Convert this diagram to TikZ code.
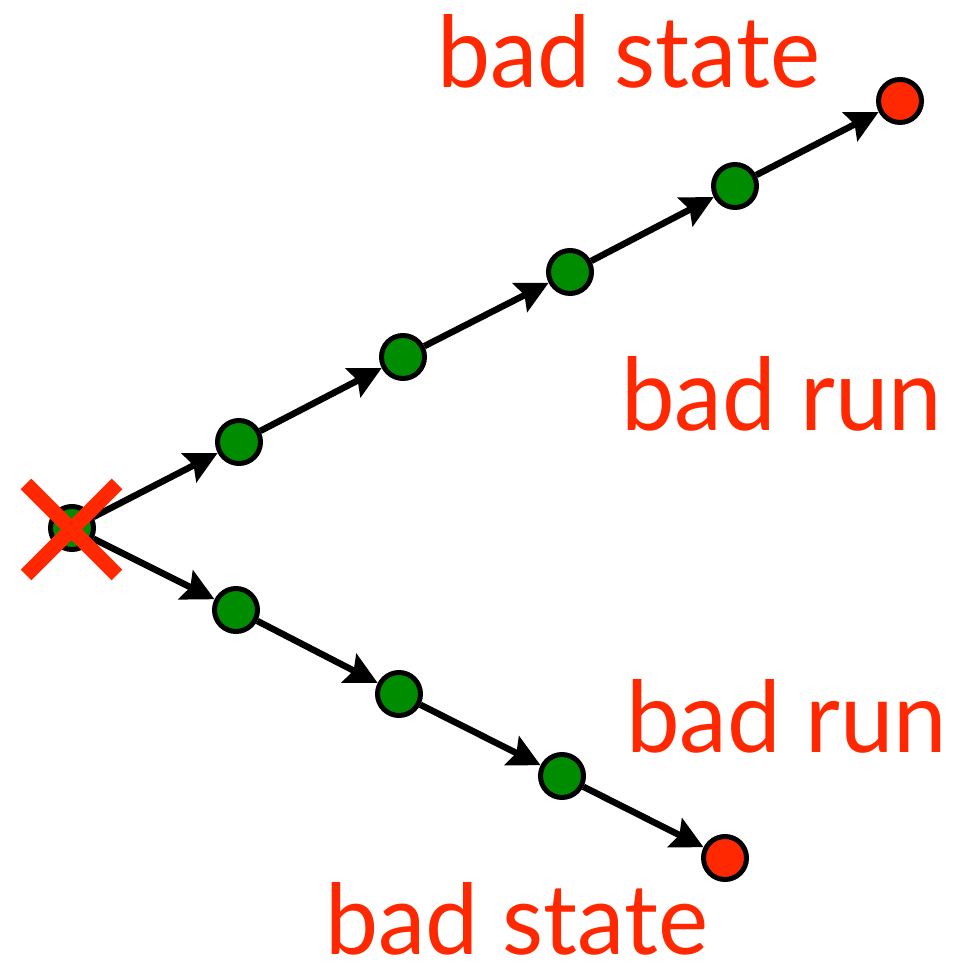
\documentclass[tikz,border=0pt]{standalone}
\usepackage{fontspec}
\setmainfont{Lato}
\usetikzlibrary{arrows.meta}
\definecolor{badred}{RGB}{255,40,0}
\definecolor{goodgreen}{RGB}{0,140,0}
\tikzset{
  state/.style={circle,draw=black,line width=5pt,minimum size=43pt,inner sep=0pt,fill=goodgreen},
  badstate/.style={state,fill=badred},
  run/.style={line width=6.5pt,-{Stealth[length=32pt,width=32pt,inset=5pt]}},
  lbl/.style={anchor=base west,inner sep=0pt,outer sep=0pt,text=badred},
  cross/.style={line width=15pt,draw=badred,line cap=butt}
}
\begin{document}
\begin{tikzpicture}[x=1pt,y=1pt]
\useasboundingbox (0,0) rectangle (957,963);
\node[state] (s) at (72,435) {};
\node[state] (u1) at (239,521) {};
\node[state] (u2) at (403,606) {};
\node[state] (u3) at (570,691) {};
\node[state] (u4) at (735,777) {};
\node[badstate] (ur) at (900,862) {};
\node[state] (l1) at (236,353) {};
\node[state] (l2) at (399,269) {};
\node[state] (l3) at (562,187) {};
\node[badstate] (lr) at (725,105) {};
\draw[run] (s) -- (u1);
\draw[run] (u1) -- (u2);
\draw[run] (u2) -- (u3);
\draw[run] (u3) -- (u4);
\draw[run] (u4) -- (ur);
\draw[run] (s) -- (l1);
\draw[run] (l1) -- (l2);
\draw[run] (l2) -- (l3);
\draw[run] (l3) -- (lr);
\coordinate (xa) at (26,479);
\coordinate (xb) at (117,388);
\coordinate (xc) at (117,479);
\coordinate (xd) at (26,388);
\draw[cross] (xa) -- (xb);
\draw[cross] (xc) -- (xd);
\node[lbl] (t1) at (437,875) {\resizebox{383pt}{73pt}{bad state}};
\node[lbl] (t2) at (621,532) {\resizebox{321pt}{74pt}{bad run}};
\node[lbl] (t3) at (626,210) {\resizebox{321pt}{73pt}{bad run}};
\node[lbl] (t4) at (325,8) {\resizebox{383pt}{72pt}{bad state}};
\end{tikzpicture}
\end{document}
